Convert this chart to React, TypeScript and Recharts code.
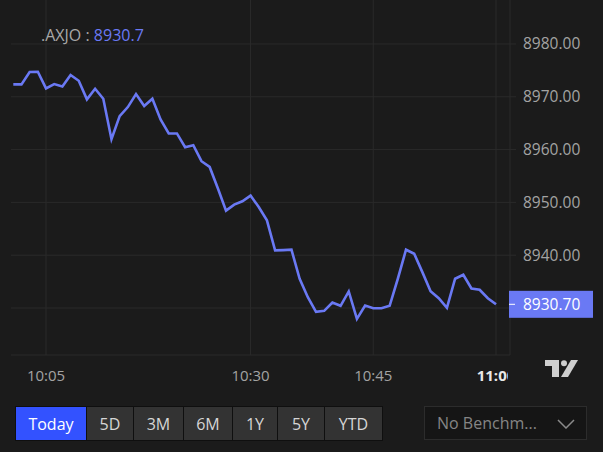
import { LineChart, Line, XAxis, YAxis, CartesianGrid } from "recharts";

const symbol = ".AXJO";
const lastPrice = 8930.7;

// one close per minute, 10:01 .. 11:00
const prices = [
  8972.35, 8972.35, 8974.69, 8974.74, 8971.59, 8972.41, 8971.97, 8974.12, 8973.04, 8969.51,
  8971.52, 8969.62, 8961.97, 8966.34, 8968.05, 8970.51, 8968.24, 8969.62, 8965.71, 8963.06,
  8963.06, 8960.46, 8960.83, 8957.8, 8956.72, 8952.68, 8948.44, 8949.58, 8950.21, 8951.29,
  8949.13, 8946.6, 8940.91, 8940.97, 8941.04, 8935.54, 8932.05, 8929.28, 8929.47, 8931.04,
  8930.42, 8933.13, 8927.95, 8930.47, 8929.96, 8929.96, 8930.42, 8935.54, 8941.04, 8940.28,
  8936.79, 8933.19, 8931.86, 8930.04, 8935.54, 8936.3, 8933.7, 8933.45, 8931.86, 8930.7,
];

const timeTicks = [5, 30, 45, 60];
const timeLabels = ["10:05", "10:30", "10:45", "11:00"];
const priceTicks = [8930, 8940, 8950, 8960, 8970, 8980];
const ranges = ["Today", "5D", "3M", "6M", "1Y", "5Y", "YTD"];

const data = prices.map((p, i) => ({ m: i + 1, price: p }));

const FONT = "'Open Sans', sans-serif";
const BG = "#1b1b1b";
const GRID = "#2a2a2a";
const BLUE = "#6a79f4";
const btnWidths = [71, 47, 50, 49, 45, 47, 58];

function TimeTick({ x, y, payload }: any) {
  const i = timeTicks.indexOf(payload.value);
  const last = i === timeTicks.length - 1;
  return (
    <text
      x={x}
      y={y + 18}
      textAnchor="middle"
      fill={last ? "#e8e8e8" : "#a3a3a3"}
      fontSize={15}
      fontFamily={FONT}
      fontWeight={last ? 700 : 400}
      clipPath={last ? "url(#edgeClip)" : undefined}
    >
      {timeLabels[i] ?? ""}
    </text>
  );
}

function PriceTick({ y, payload }: any) {
  const v = payload.value;
  if (v === 8930) return <g />;
  if (v === lastPrice) {
    return (
      <g>
        <rect x={509} y={y - 13.5} width={84} height={27} fill={BLUE} />
        <line x1={509} x2={515} y1={y} y2={y} stroke="#fff" strokeWidth={1} />
        <text x={523} y={y + 5.5} fill="#fff" fontSize={15.5} fontFamily={FONT}>
          {v.toFixed(2)}
        </text>
      </g>
    );
  }
  return (
    <text x={523} y={y + 5.5} fill="#a3a3a3" fontSize={15.5} fontFamily={FONT}>
      {v.toFixed(2)}
    </text>
  );
}

export default function App() {
  return (
    <div
      style={{
        position: "fixed",
        left: 0,
        top: 0,
        width: 603,
        height: 452,
        background: BG,
        fontFamily: FONT,
        overflow: "hidden",
      }}
    >
      <LineChart
        width={603}
        height={390}
        data={data}
        margin={{ top: 0, right: 0, left: 11, bottom: 0 }}
      >
        <defs>
          <clipPath id="edgeClip">
            <rect x={0} y={0} width={508} height={400} />
          </clipPath>
        </defs>
        <CartesianGrid
          stroke={GRID}
          horizontalValues={priceTicks}
          verticalValues={timeTicks}
        />
        <XAxis
          dataKey="m"
          type="number"
          domain={[0.72, 61.71]}
          allowDataOverflow
          ticks={timeTicks}
          interval={0}
          height={35}
          stroke={GRID}
          tickLine={false}
          tick={<TimeTick />}
        />
        <YAxis
          orientation="right"
          width={93}
          domain={[8921.1, 8988.33]}
          allowDataOverflow
          ticks={[...priceTicks, lastPrice]}
          interval={0}
          stroke={GRID}
          tickSize={6}
          tickLine={{ stroke: GRID }}
          tick={<PriceTick />}
        />
        <Line
          type="linear"
          dataKey="price"
          stroke={BLUE}
          strokeWidth={2.6}
          dot={false}
          isAnimationActive={false}
        />
      </LineChart>

      <div
        style={{
          position: "absolute",
          left: 41,
          top: 25,
          fontSize: 16,
          lineHeight: "20px",
          color: "#a8a8a8",
        }}
      >
        {symbol} : <span style={{ color: BLUE }}>{lastPrice}</span>
      </div>

      <svg
        width={34}
        height={18}
        style={{ position: "absolute", left: 545, top: 360 }}
      >
        <rect x={0} y={0} width={14} height={6} fill="#cfcfcf" />
        <rect x={7} y={0} width={7} height={17} fill="#cfcfcf" />
        <circle cx={19} cy={3.2} r={3} fill="#cfcfcf" />
        <polygon points="16,17 23,17 33,0 26,0" fill="#cfcfcf" />
      </svg>

      <div
        style={{
          position: "absolute",
          left: 15,
          top: 406,
          height: 33,
          display: "flex",
          border: "1px solid #0f0f0f",
          background: "#0f0f0f",
          gap: 1,
        }}
      >
        {ranges.map((r, i) => (
          <div
            key={r}
            style={{
              width: btnWidths[i] - 1,
              height: 33,
              background: i === 0 ? "#3352ff" : "#333333",
              color: i === 0 ? "#ffffff" : "#d6d6d6",
              fontSize: 16,
              display: "flex",
              alignItems: "center",
              justifyContent: "center",
            }}
          >
            {r}
          </div>
        ))}
      </div>

      <div
        style={{
          position: "absolute",
          left: 424,
          top: 406,
          width: 163,
          height: 34,
          background: "#151515",
          border: "1px solid #2c2c2c",
          color: "#858585",
          fontSize: 16,
          display: "flex",
          alignItems: "center",
          boxSizing: "border-box",
          paddingLeft: 12,
        }}
      >
        No Benchm...
        <svg
          width={18}
          height={10}
          style={{ position: "absolute", left: 132, top: 12 }}
        >
          <polyline
            points="1,1 9,9 17,1"
            fill="none"
            stroke="#8a8a8a"
            strokeWidth={1.5}
          />
        </svg>
      </div>
    </div>
  );
}
